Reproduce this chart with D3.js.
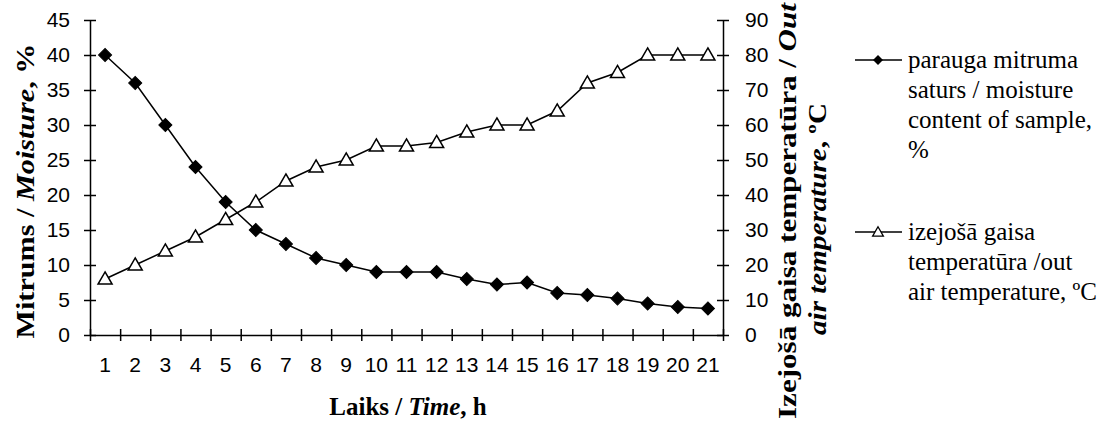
<!DOCTYPE html>
<html>
<head>
<meta charset="utf-8">
<script src="https://cdn.jsdelivr.net/npm/d3@7"></script>
<style>
  body { margin: 0; background: #fff; }
  svg { display: block; }
  .tick text { font-family: "Liberation Sans", Arial, sans-serif; font-size: 21px; fill: #000; }
  .title { font-family: "Liberation Serif", "Times New Roman", serif; font-weight: bold; font-size: 25px; fill: #000; }
  .legend { font-family: "Liberation Serif", "Times New Roman", serif; font-size: 25px; fill: #000; }
</style>
</head>
<body>
<svg width="1113" height="423"></svg>
<script>
// hours
var hours = d3.range(1, 22);
// moisture content of sample, %
var moisture = [40, 36, 30, 24, 19, 15, 13, 11, 10, 9, 9, 9, 8, 7.2, 7.5, 6, 5.7, 5.2, 4.5, 4, 3.8];
// out air temperature, C
var temperature = [16, 20, 24, 28, 33, 38, 44, 48, 50, 54, 54, 55, 58, 60, 60, 64, 72, 75, 80, 80, 80];

var leftTicks = d3.range(0, 46, 5);
var rightTicks = d3.range(0, 91, 10);

function drawChart() {
  var svg = d3.select("svg");

  var pLeft = 90, pRight = 723, pTop = 20, pBottom = 335;

  var x = d3.scaleBand().domain(hours).range([pLeft, pRight]);
  var xEdge = d3.scaleLinear().domain([0, hours.length]).range([pLeft, pRight]);
  var yL = d3.scaleLinear().domain([0, 45]).range([pBottom, pTop]);
  var yR = d3.scaleLinear().domain([0, 90]).range([pBottom, pTop]);

  function cx(d, i) { return x(hours[i]) + x.bandwidth() / 2; }

  // left axis
  var gL = svg.append("g")
      .attr("transform", "translate(" + pLeft + ",0)")
      .call(d3.axisLeft(yL).tickValues(leftTicks).tickSize(6).tickSizeOuter(0).tickPadding(14));
  gL.selectAll(".tick line").attr("x1", -6).attr("x2", 6);

  // right axis
  var gR = svg.append("g")
      .attr("transform", "translate(" + pRight + ",0)")
      .call(d3.axisRight(yR).tickValues(rightTicks).tickSize(6).tickSizeOuter(0).tickPadding(16));
  gR.selectAll(".tick line").attr("x1", -6).attr("x2", 6);

  // x axis: marks at category edges, labels at centres
  var gX = svg.append("g")
      .attr("transform", "translate(0," + pBottom + ")")
      .call(d3.axisBottom(xEdge).tickValues(d3.range(0, hours.length + 1)).tickFormat("").tickSize(6).tickSizeOuter(0));
  gX.selectAll(".tick line").attr("y1", -6).attr("y2", 6);

  var gXL = svg.append("g")
      .attr("transform", "translate(0," + pBottom + ")")
      .call(d3.axisBottom(x).tickSize(0).tickPadding(22));
  gXL.select(".domain").remove();

  svg.selectAll(".domain").attr("stroke", "#000").attr("stroke-width", 1.5);
  svg.selectAll(".tick line").attr("stroke", "#000").attr("stroke-width", 1.5);

  // lines
  var lineM = d3.line().x(cx).y(function(d) { return yL(d); });
  var lineT = d3.line().x(cx).y(function(d) { return yR(d); });

  svg.append("path").datum(temperature)
      .attr("d", lineT).attr("fill", "none").attr("stroke", "#000").attr("stroke-width", 1.5);
  svg.append("path").datum(moisture)
      .attr("d", lineM).attr("fill", "none").attr("stroke", "#000").attr("stroke-width", 1.5);

  var diamond = d3.symbol().type(d3.symbolSquare).size(85);
  var triangle = d3.symbol().type(d3.symbolTriangle).size(85);

  svg.append("g").selectAll("path")
    .data(temperature)
    .enter().append("path")
      .attr("d", triangle)
      .attr("transform", function(d, i) { return "translate(" + cx(d, i) + "," + (yR(d) + 1) + ")"; })
      .attr("fill", "#fff").attr("stroke", "#000").attr("stroke-width", 1.5);

  svg.append("g").selectAll("path")
    .data(moisture)
    .enter().append("path")
      .attr("d", diamond)
      .attr("transform", function(d, i) { return "translate(" + cx(d, i) + "," + yL(d) + ") rotate(45)"; })
      .attr("fill", "#000").attr("stroke", "#000").attr("stroke-width", 1);

  // axis titles (vertical ones are stretched along their length, as in the source image)
  var tL = svg.append("text").attr("class", "title")
      .attr("transform", "translate(34,191) rotate(-90)")
      .attr("text-anchor", "middle")
      .attr("textLength", 295).attr("lengthAdjust", "spacingAndGlyphs");
  tL.append("tspan").text("Mitrums / ");
  tL.append("tspan").attr("font-style", "italic").text("Moisture");
  tL.append("tspan").text(", %");

  var tR1 = svg.append("text").attr("class", "title")
      .attr("transform", "translate(796,211) rotate(-90)")
      .attr("text-anchor", "middle")
      .attr("textLength", 416).attr("lengthAdjust", "spacingAndGlyphs");
  tR1.append("tspan").text("Izejošā gaisa temperatūra / ");
  tR1.append("tspan").attr("font-style", "italic").text("Out");

  var tR2 = svg.append("text").attr("class", "title")
      .attr("transform", "translate(826,219) rotate(-90)")
      .attr("text-anchor", "middle")
      .attr("textLength", 232).attr("lengthAdjust", "spacingAndGlyphs");
  tR2.append("tspan").attr("font-style", "italic").text("air temperature");
  tR2.append("tspan").text(", ºC");

  var tB = svg.append("text").attr("class", "title")
      .attr("x", 408).attr("y", 415)
      .attr("text-anchor", "middle");
  tB.append("tspan").text("Laiks / ");
  tB.append("tspan").attr("font-style", "italic").text("Time");
  tB.append("tspan").text(", h");

  // legend
  var legendItems = [
    { lines: ["parauga mitruma", "saturs / moisture", "content of sample,", "%"], y: 60, kind: "diamond" },
    { lines: ["izejošā gaisa", "temperatūra /out", "air temperature, ºC"], y: 232, kind: "triangle" }
  ];

  legendItems.forEach(function(it) {
    svg.append("line")
        .attr("x1", 855).attr("x2", 902).attr("y1", it.y).attr("y2", it.y)
        .attr("stroke", "#000").attr("stroke-width", 1.5);
    if (it.kind === "diamond") {
      svg.append("path").attr("d", d3.symbol().type(d3.symbolSquare).size(50))
          .attr("transform", "translate(878," + it.y + ") rotate(45)").attr("fill", "#000");
    } else {
      svg.append("path").attr("d", d3.symbol().type(d3.symbolTriangle).size(50))
          .attr("transform", "translate(878," + (it.y + 1) + ")")
          .attr("fill", "#fff").attr("stroke", "#000").attr("stroke-width", 1.3);
    }
    var t = svg.append("text").attr("class", "legend");
    it.lines.forEach(function(s, k) {
      t.append("tspan").attr("x", 908).attr("y", it.y + 8 + k * 30).text(s);
    });
  });
}

drawChart();
</script>
</body>
</html>
